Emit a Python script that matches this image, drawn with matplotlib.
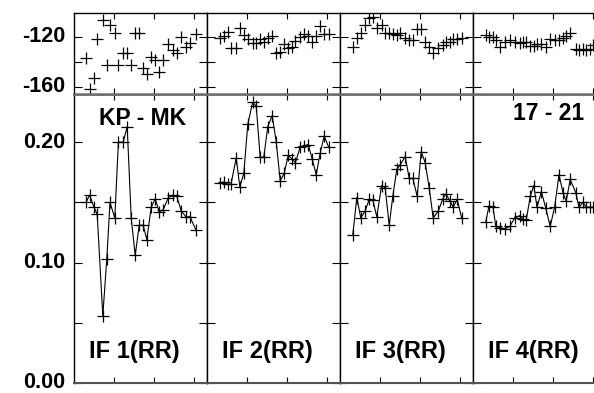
import matplotlib
matplotlib.use("Agg")
import matplotlib.pyplot as plt
import numpy as np

plt.rcParams['font.family'] = ['Liberation Sans', 'DejaVu Sans']
plt.rcParams['font.weight'] = 'bold'
plt.rcParams['axes.unicode_minus'] = False

# ---- data (time in plot units, amplitude, phase in degrees) ----
t1 = [3.0, 3.9, 5.0, 5.8, 7.2, 8.2, 9.0, 10.2, 11.1, 12.3, 13.3, 14.3, 15.3, 16.3,
      17.3, 18.2, 19.3, 20.3, 21.3, 22.3, 23.6, 24.7, 25.7, 26.8, 28.0, 29.0, 30.5]
amp1 = [0.150, 0.156, 0.146, 0.140, 0.056, 0.103, 0.150, 0.137, 0.200, 0.200, 0.213,
        0.137, 0.106, 0.131, 0.131, 0.119, 0.146, 0.153, 0.142, 0.144, 0.154, 0.156,
        0.155, 0.143, 0.138, 0.138, 0.127]
ph1 = [-137, -162, -153, -122, -107, -143, -111, -117, -143, -133, -133, -143, -117,
       -117, -145, -150, -136, -139, -148, -139, -126, -131, -133, -120, -128, -125, -118]

t2 = [3.2, 4.2, 5.2, 6.0, 7.3, 8.2, 9.2, 10.2, 11.4, 12.3, 13.3, 14.2, 15.2, 16.3,
      17.3, 18.3, 19.3, 20.3, 21.3, 22.1, 23.3, 24.3, 25.3, 26.3, 27.3, 28.3, 29.3, 30.4]
amp2 = [0.166, 0.167, 0.165, 0.165, 0.187, 0.163, 0.174, 0.215, 0.233, 0.230, 0.1875,
        0.1875, 0.213, 0.222, 0.2005, 0.168, 0.174, 0.189, 0.186, 0.183, 0.196, 0.197,
        0.198, 0.186, 0.173, 0.191, 0.205, 0.196]
ph2 = [-121, -119.5, -116, -129, -129, -113, -119, -122, -125, -125, -122, -124, -121,
       -119.5, -133, -132, -126, -129, -128, -123.5, -120, -118, -119.5, -124, -119.5,
       -111.5, -118, -118]

t3 = [3.2, 4.2, 5.2, 6.3, 7.3, 8.2, 9.2, 10.4, 11.3, 12.3, 13.2, 14.2, 15.0, 16.3,
      17.3, 18.2, 19.3, 20.3, 21.3, 22.3, 23.3, 24.6, 25.7, 26.5, 27.5, 28.3, 29.3, 30.4]
amp3 = [0.123, 0.154, 0.137, 0.143, 0.1525, 0.152, 0.138, 0.164, 0.162, 0.131, 0.155,
        0.1775, 0.181, 0.188, 0.170, 0.170, 0.155, 0.192, 0.183, 0.162, 0.137, 0.143,
        0.153, 0.157, 0.151, 0.146, 0.1525, 0.137]
ph3 = [-128, -121, -117, -111, -105, -104, -113, -111, -117, -117, -118, -119, -117,
       -121, -123, -123, -114, -114, -124, -128, -133, -129, -127, -124, -124, -122,
       -122, -121]

t4 = [3.2, 4.0, 5.0, 5.7, 6.8, 7.9, 9.2, 10.4, 11.7, 12.5, 13.3, 14.3, 15.2, 16.0,
      17.1, 18.2, 19.3, 20.4, 21.5, 22.5, 23.3, 24.3, 25.7, 26.5, 27.5, 28.3, 29.2, 30.0]
amp4 = [0.134, 0.147, 0.146, 0.130, 0.129, 0.128, 0.130, 0.137, 0.139, 0.136, 0.135,
        0.155, 0.164, 0.146, 0.159, 0.145, 0.130, 0.146, 0.173, 0.158, 0.151, 0.169,
        0.158, 0.146, 0.150, 0.146, 0.146, 0.146]
ph4 = [-118.7, -120, -120, -123, -128, -124, -123, -124, -125, -124.5, -124, -127.5,
       -127.5, -126, -126, -128.5, -122, -123, -123, -121, -119.5, -117, -130, -131,
       -130, -131, -130, -127]

panel_labels = ["IF 1(RR)", "IF 2(RR)", "IF 3(RR)", "IF 4(RR)"]
baseline_label = "KP - MK"
time_label = "17 - 21"

times = [t1, t2, t3, t4]
amps = [amp1, amp2, amp3, amp4]
phases = [ph1, ph2, ph3, ph4]

W, H = 594, 393
fig = plt.figure(figsize=(W / 100, H / 100), dpi=100)

left0 = 74
pw = 133
amp_bot, amp_top = 383, 94
ph_top = 13

for i in range(4):
    l = (left0 + i * pw) / W
    w = pw / W
    ax_a = fig.add_axes([l, (H - amp_bot) / H, w, (amp_bot - amp_top) / H])
    ax_p = fig.add_axes([l, (H - amp_top) / H, w, (amp_top - ph_top) / H])

    ax_a.plot(times[i], amps[i], color='black', lw=0.8, marker='+', ms=8.5, mew=0.9)
    ax_p.plot(times[i], phases[i], ls='none', color='black', marker='+', ms=8.5, mew=0.9)

    for ax in (ax_a, ax_p):
        ax.set_xlim(0, 33.25)
        ax.set_xticks([10, 20, 30])
        ax.set_xticklabels([])
        ax.tick_params(axis='x', direction='in', top=True, bottom=True, length=4, width=0.8)
        ax.tick_params(axis='y', direction='in', left=True, right=True, length=5.5, width=0.8,
                       labelsize=15.5, pad=6)
        for s in ax.spines.values():
            s.set_linewidth(1.0)
            s.set_color('black')

    ax_a.set_ylim(0, 0.24)
    ax_a.set_yticks([0.0, 0.05, 0.10, 0.15, 0.20])
    ax_p.set_ylim(-166, -101)
    ax_p.set_yticks([-160, -140, -120])

    if i == 0:
        ax_a.set_yticklabels(['0.00', '', '0.10', '', '0.20'], fontweight='bold')
        ax_p.set_yticklabels(['-160', '', '-120'], fontweight='bold')
        for lab in ax_a.get_yticklabels():
            lab.set_verticalalignment('center')
        for lab in ax_p.get_yticklabels():
            lab.set_verticalalignment('center')
    else:
        ax_a.set_yticklabels([])
        ax_p.set_yticklabels([])

    ax_p.spines['bottom'].set_color('#6e6e6e')
    ax_p.spines['bottom'].set_linewidth(1.8)
    ax_a.spines['top'].set_color('#6e6e6e')
    ax_a.spines['top'].set_linewidth(1.8)
    ax_a.spines['bottom'].set_color('#555555')
    ax_a.spines['bottom'].set_linewidth(1.5)

    ax_a.text(15, 0.026, panel_labels[i], ha='center', va='center',
              fontsize=17, fontweight='bold')
    if i == 0:
        ax_a.text(17.25, 0.22, baseline_label, ha='center', va='center',
                  fontsize=16.5, fontweight='bold')
    if i == 3:
        ax_a.text(19, 0.224, time_label, ha='center', va='center',
                  fontsize=16.5, fontweight='bold')

fig.savefig("out.png", dpi=100)
